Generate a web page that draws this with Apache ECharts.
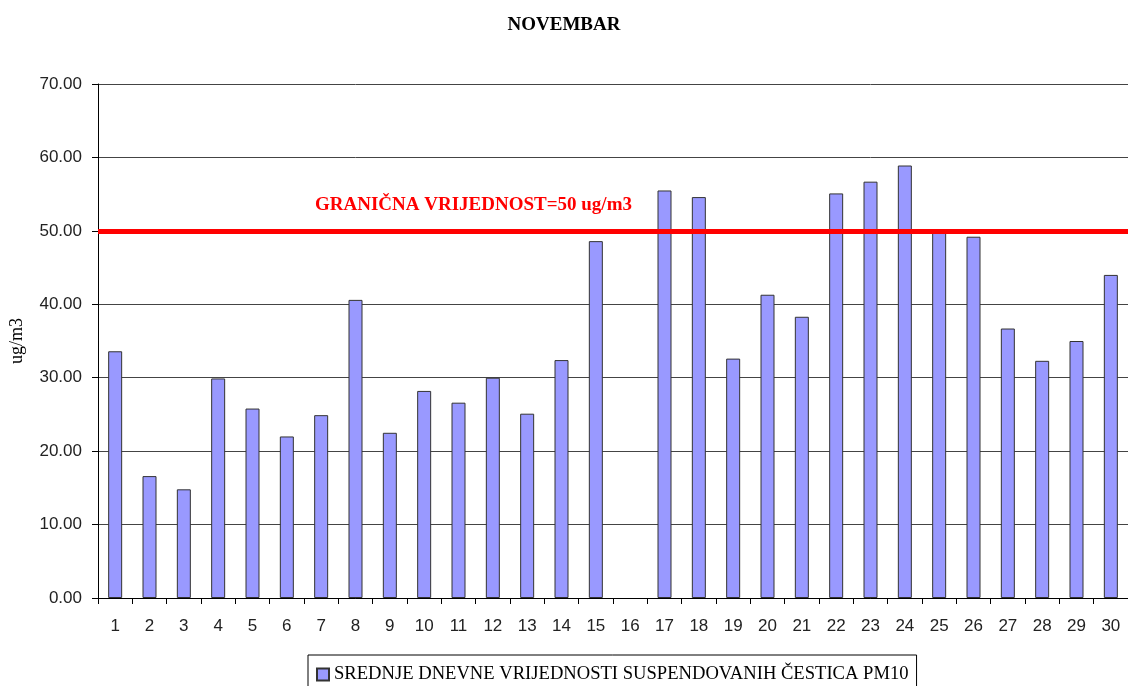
<!DOCTYPE html>
<html>
<head>
<meta charset="utf-8">
<title>NOVEMBAR</title>
<script src="https://cdn.jsdelivr.net/npm/echarts@6/dist/echarts.min.js"></script>
<style>
  html, body { margin: 0; padding: 0; background: #fff; }
  #chart { width: 1128px; height: 686px; }
</style>
</head>
<body>
<div id="chart"></div>
<script>
// dani u mjesecu
const days = ['1', '2', '3', '4', '5', '6', '7', '8', '9', '10', '11', '12', '13', '14', '15',
  '16', '17', '18', '19', '20', '21', '22', '23', '24', '25', '26', '27', '28', '29', '30']
// srednje dnevne vrijednosti PM10 (16. nema podatka)
const pm10 = [33.6, 16.6, 14.8, 29.9, 25.8, 22.0, 24.9, 40.6, 22.5, 28.2, 26.6, 30.0, 25.1, 32.4, 48.6,
  null, 55.5, 54.6, 32.6, 41.3, 38.3, 55.1, 56.7, 58.9, 49.9, 49.2, 36.7, 32.3, 35.0, 44.0]
const limitValue = 50
const yTicks = [0, 10, 20, 30, 40, 50, 60, 70]

const seriesName = 'SREDNJE DNEVNE VRIJEDNOSTI SUSPENDOVANIH ČESTICA PM10'
const limitLabel = 'GRANIČNA VRIJEDNOST=50 ug/m3'

const chart = echarts.init(document.getElementById('chart'))

chart.setOption({
  animation: false,
  title: {
    text: 'NOVEMBAR',
    left: 'center',
    top: 11,
    textStyle: {
      fontFamily: 'Liberation Serif',
      fontSize: 19,
      fontWeight: 'bold',
      color: '#000'
    }
  },
  legend: {
    bottom: -8,
    left: 308,
    itemWidth: 12,
    itemHeight: 12,
    itemGap: 0,
    padding: [10, 8, 10, 8],
    borderColor: '#000',
    borderWidth: 1,
    icon: 'rect',
    textStyle: {
      fontFamily: 'Liberation Serif',
      fontSize: 18.6,
      color: '#000'
    },
    data: [seriesName]
  },
  grid: {
    left: 96,
    right: 0,
    top: 84,
    bottom: 88
  },
  graphic: [{
    type: 'text',
    left: 315,
    top: 196,
    style: {
      text: limitLabel,
      fill: '#ff0000',
      font: 'bold 19px "Liberation Serif"'
    }
  }],
  xAxis: {
    type: 'category',
    data: days,
    boundaryGap: true,
    axisLine: { lineStyle: { color: '#000', width: 1 } },
    axisTick: { show: true, length: 6, lineStyle: { color: '#000' } },
    axisLabel: {
      margin: 20,
      fontFamily: 'Liberation Sans',
      fontSize: 17,
      color: '#222'
    }
  },
  yAxis: {
    type: 'value',
    min: yTicks[0],
    max: yTicks[yTicks.length - 1],
    interval: 10,
    name: 'ug/m3',
    nameLocation: 'middle',
    nameGap: 72,
    nameRotate: 90,
    nameTextStyle: {
      fontFamily: 'Liberation Serif',
      fontSize: 18,
      color: '#000'
    },
    axisLine: { show: true, lineStyle: { color: '#000', width: 1 } },
    axisTick: { show: true, length: 6, lineStyle: { color: '#000' } },
    axisLabel: {
      margin: 16,
      fontFamily: 'Liberation Sans',
      fontSize: 17,
      color: '#222',
      formatter: v => v.toFixed(2)
    },
    splitLine: { show: true, lineStyle: { color: '#444', width: 1 } }
  },
  series: [{
    name: seriesName,
    type: 'bar',
    barWidth: 14,
    data: pm10,
    itemStyle: {
      color: '#9999ff',
      borderColor: '#333',
      borderWidth: 1
    },
    markLine: {
      silent: true,
      symbol: 'none',
      label: { show: false },
      lineStyle: { color: '#ff0000', width: 5, type: 'solid' },
      data: [{ yAxis: limitValue }]
    }
  }]
})
</script>
</body>
</html>
